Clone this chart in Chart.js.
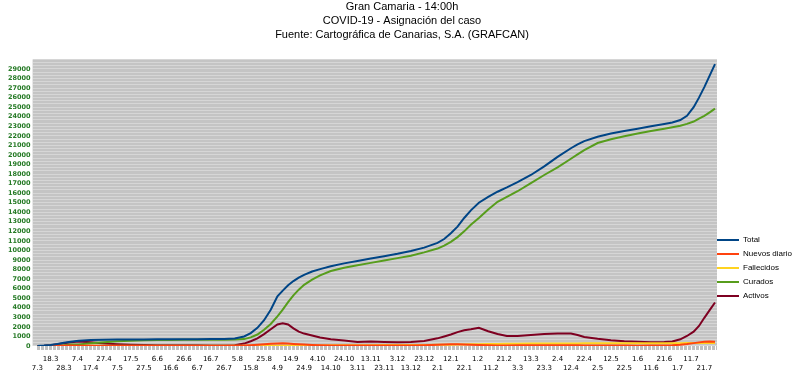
<!DOCTYPE html>
<html><head><meta charset="utf-8">
<script src="https://cdn.jsdelivr.net/npm/chart.js@4"></script>
<style>html,body{margin:0;padding:0;background:#fff}#wrap{width:800px;height:375px}</style>
</head><body><div id="wrap"><canvas id="c"></canvas></div>
<script>
// x positions are day-record indices (0 = 7.3.2020); tick labels every 10 records
const tickLabels = ['7.3','18.3','28.3','7.4','17.4','27.4','7.5','17.5','27.5','6.6','16.6','26.6','6.7','16.7','26.7','5.8','15.8','25.8','4.9','14.9','24.9','4.10','14.10','24.10','3.11','13.11','23.11','3.12','13.12','23.12','2.1','12.1','22.1','1.2','11.2','21.2','3.3','13.3','23.3','2.4','12.4','22.4','2.5','12.5','22.5','1.6','11.6','21.6','1.7','11.7','21.7'];
const dayIndex = [0,5,10,15,20,25,31,40,50,60,70,80,90,100,110,120,130,140,148,155,160,165,170,175,180,184,188,192,196,200,206,212,220,230,240,250,260,270,280,290,300,305,310,315,320,325,331,338,345,352,360,370,380,390,400,405,410,420,430,440,450,460,470,476,482,487,492,496,500,504,508];
const total = [5,40,110,220,330,440,560,620,650,670,680,690,700,705,710,715,720,730,780,1000,1350,1900,2700,3800,5200,5800,6350,6800,7150,7450,7800,8050,8350,8650,8900,9150,9400,9650,9950,10300,10800,11200,11800,12500,13400,14200,15000,15600,16150,16600,17150,17900,18800,19800,20700,21100,21450,21900,22250,22500,22750,23000,23250,23400,23650,24100,25000,26000,27100,28300,29500];
const nuevosDiario = [0,5,15,25,35,40,30,20,10,5,3,2,2,2,2,3,3,5,15,40,80,130,180,230,260,280,260,220,180,150,110,80,60,50,40,50,50,50,60,80,120,150,170,170,160,140,110,80,60,60,70,80,90,90,80,70,60,50,40,40,35,40,50,80,130,200,300,380,450,480,450];
const fallecidos = [0,0,1,3,6,9,12,16,18,19,19,19,20,20,20,20,20,20,20,21,22,24,26,28,31,34,37,41,45,50,56,61,67,75,82,88,93,100,107,115,125,132,140,150,162,175,190,205,220,232,242,250,256,262,268,272,275,280,284,288,291,294,297,298,300,302,304,305,307,309,311];
const curados = [0,5,15,40,80,150,150,280,400,500,560,600,630,640,645,650,655,660,670,720,900,1200,1700,2300,3100,3800,4600,5300,5900,6400,6950,7400,7850,8200,8450,8700,8950,9200,9450,9800,10200,10500,10900,11400,12000,12700,13400,14300,15100,15600,16200,17050,17900,18700,19600,20050,20500,21250,21650,21950,22250,22500,22750,22900,23050,23250,23500,23800,24100,24450,24850];
const activos = [0,30,90,180,280,380,480,380,260,180,130,100,90,80,75,70,65,65,90,250,500,800,1250,1750,2250,2380,2250,1850,1500,1300,1100,900,700,580,420,460,430,400,430,520,800,1000,1200,1450,1650,1750,1900,1550,1250,1050,1050,1150,1250,1300,1300,1150,950,750,600,500,450,400,430,480,700,1050,1500,2100,2950,3750,4550];

const seriesNames = ['Total','Nuevos diario','Fallecidos','Curados','Activos'];
const seriesValues = [total, nuevosDiario, fallecidos, curados, activos];
const seriesColors = ['#004586','#ff420e','#ffd320','#579d1c','#7e0021'];

const bgPlugin = {id:'bg', beforeDraw(chart){const {ctx, chartArea:a}=chart; ctx.save(); ctx.fillStyle='#c4c4c4'; ctx.fillRect(a.left,a.top,a.right-a.left,a.bottom-a.top); ctx.restore();}};
const legendPos = {id:'legendPos', afterLayout(chart){const l=chart.legend; l.left = chart.chartArea.right - 6; l.right = 800; l.top = 230; l.bottom = 330;}};

new Chart(document.getElementById('c'), {
  type: 'line',
  data: {
    datasets: seriesNames.map((n,i)=>({
      label: n,
      data: dayIndex.map((d,j)=>({x:d, y:seriesValues[i][j]})),
      borderColor: seriesColors[i], backgroundColor: seriesColors[i],
      borderWidth: 2, pointRadius: 0, tension: 0, fill: false
    }))
  },
  plugins: [bgPlugin, legendPos],
  options: {
    responsive: true, maintainAspectRatio: false, animation: false, devicePixelRatio: 1,
    layout: {padding: {left: 6, right: 2, top: 0, bottom: -3}},
    plugins: {
      title: {display: true, text: ['Gran Camaria - 14:00h','COVID-19 - Asignación del caso','Fuente: Cartográfica de Canarias, S.A. (GRAFCAN)'],
        font: {family: 'Liberation Sans', size: 11, weight: 'normal', lineHeight: 1.255}, color: '#000', padding: {top: 0, bottom: 18}},
      legend: {position: 'right', align: 'start', maxWidth: 81, labels: {boxWidth: 22, boxHeight: 2, padding: 6, color: '#000',
        font: {family: 'Liberation Sans', size: 8},
        generateLabels(chart){const items = Chart.defaults.plugins.legend.labels.generateLabels(chart); items.forEach(it=>{it.fillStyle = it.strokeStyle; it.lineWidth = 0;}); return items;}}},
      tooltip: {enabled: false}
    },
    scales: {
      x: {type: 'linear', min: -3.5, max: 509.5,
        afterBuildTicks: s => { const t=[]; for (let i=0;i<=509;i++) t.push({value:i}); s.ticks = t; },
        ticks: {autoSkip: false, maxRotation: 0, minRotation: 0, padding: 5, color: '#000',
          font: {family: 'DejaVu Sans', size: 7, lineHeight: 1.286},
          callback: (value) => { const v = Math.round(value); if (v % 10 !== 0) return ''; const k = v/10; const lab = tickLabels[k]; if (lab === undefined) return ''; return k % 2 === 0 ? ['', lab] : [lab, '']; }},
        grid: {drawOnChartArea: false, drawTicks: true, tickLength: 4, color: '#c0c0c0'},
        border: {display: false}},
      y: {min: 0, max: 30000,
        afterBuildTicks: s => { const t=[]; for (let i=0;i<=90;i++) t.push({value:i*1000/3}); s.ticks = t; },
        ticks: {autoSkip: false, padding: 2, color: '#267a26',
          font: {family: 'DejaVu Sans', size: 6.5, weight: 'bold'},
          callback: (value) => { const k = value/1000; const r = Math.round(k); if (Math.abs(k-r) > 1e-6 || r >= 30) return ''; return String(r*1000); }},
        grid: {color: '#d6d6d6', drawTicks: false, lineWidth: 1},
        border: {display: false}}
    }
  }
});
</script>
</body></html>
